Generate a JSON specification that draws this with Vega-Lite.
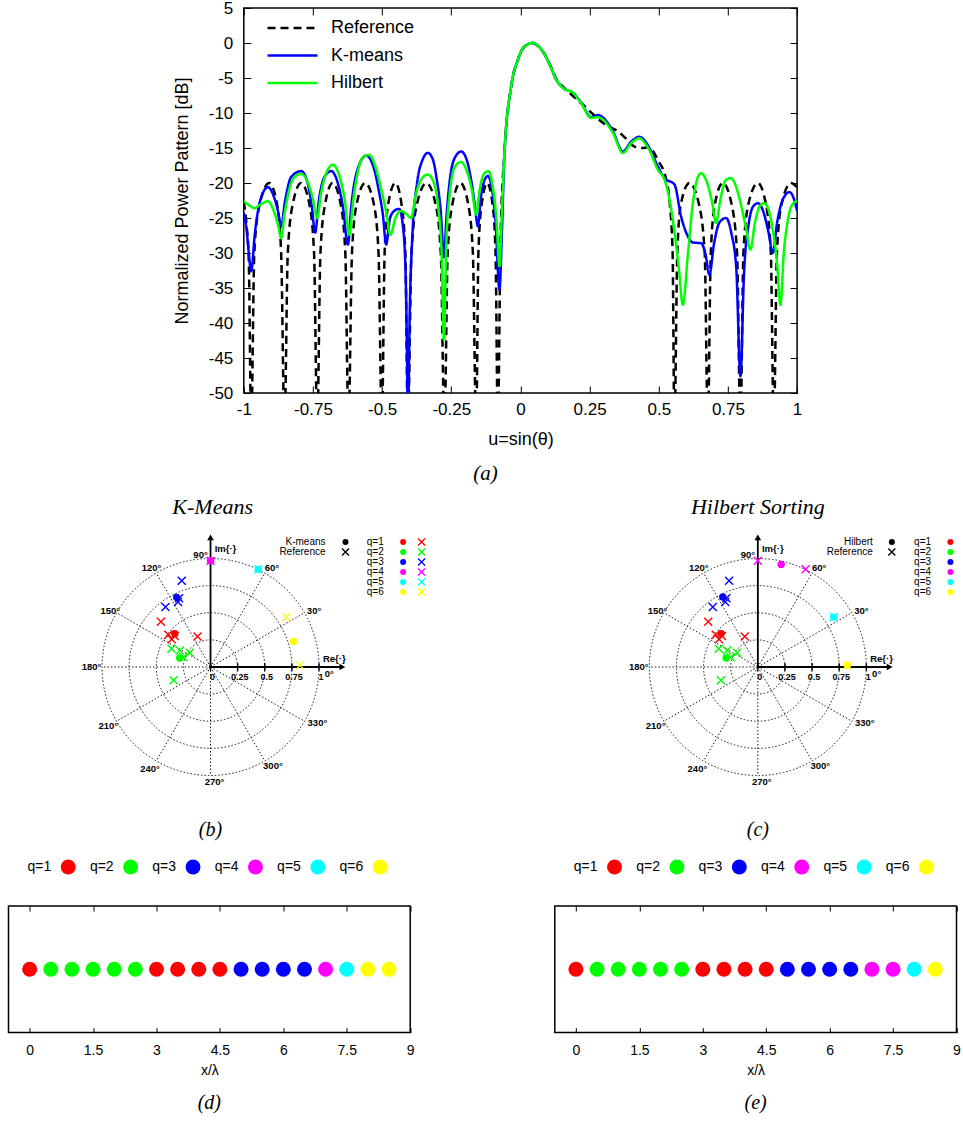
{
"$schema":"https://vega.github.io/schema/vega-lite/v6.json",
"padding":{"left":7.5,"top":-2,"right":0,"bottom":0},
"config":{"font":"Liberation Sans","view":{"stroke":null},
"axis":{"domain":false,"grid":false,"labelColor":"black","tickColor":"black","titleColor":"black","titleFontWeight":"normal","labelFont":"Liberation Sans","titleFont":"Liberation Sans","tickWidth":1},
"title":{"font":"Liberation Serif","fontStyle":"italic","fontWeight":"normal","color":"black"}},
"datasets":{
"curves":[
{"s":"Reference","u":-1,"v":-22.7},{"s":"Reference","u":-0.99,"v":-26},{"s":"Reference","u":-0.982,"v":-31},{"s":"Reference","u":-0.9733,"v":-55},
{"s":"Reference","u":-0.962,"v":-30},{"s":"Reference","u":-0.945,"v":-23.5},{"s":"Reference","u":-0.908,"v":-20},{"s":"Reference","u":-0.88,"v":-23},{"s":"Reference","u":-0.865,"v":-30},{"s":"Reference","u":-0.8529,"v":-55},
{"s":"Reference","u":-0.841,"v":-30},{"s":"Reference","u":-0.823,"v":-23},{"s":"Reference","u":-0.793,"v":-20},{"s":"Reference","u":-0.763,"v":-23},{"s":"Reference","u":-0.746,"v":-30},{"s":"Reference","u":-0.7347,"v":-55},
{"s":"Reference","u":-0.723,"v":-30},{"s":"Reference","u":-0.706,"v":-23},{"s":"Reference","u":-0.679,"v":-20},{"s":"Reference","u":-0.65,"v":-23},{"s":"Reference","u":-0.633,"v":-30},{"s":"Reference","u":-0.6216,"v":-55},
{"s":"Reference","u":-0.609,"v":-30},{"s":"Reference","u":-0.592,"v":-23},{"s":"Reference","u":-0.561,"v":-20},{"s":"Reference","u":-0.53,"v":-23},{"s":"Reference","u":-0.513,"v":-30},{"s":"Reference","u":-0.5009,"v":-55},
{"s":"Reference","u":-0.491,"v":-30},{"s":"Reference","u":-0.478,"v":-23},{"s":"Reference","u":-0.452,"v":-20},{"s":"Reference","u":-0.43,"v":-23},{"s":"Reference","u":-0.416,"v":-30},{"s":"Reference","u":-0.4069,"v":-55},
{"s":"Reference","u":-0.394,"v":-30},{"s":"Reference","u":-0.374,"v":-23},{"s":"Reference","u":-0.34,"v":-20},{"s":"Reference","u":-0.307,"v":-23},{"s":"Reference","u":-0.288,"v":-30},{"s":"Reference","u":-0.2747,"v":-55},
{"s":"Reference","u":-0.263,"v":-30},{"s":"Reference","u":-0.246,"v":-23},{"s":"Reference","u":-0.217,"v":-20},{"s":"Reference","u":-0.189,"v":-23},{"s":"Reference","u":-0.172,"v":-30},{"s":"Reference","u":-0.1601,"v":-55},
{"s":"Reference","u":-0.152,"v":-30},{"s":"Reference","u":-0.14,"v":-23},{"s":"Reference","u":-0.12,"v":-20},{"s":"Reference","u":-0.101,"v":-23},{"s":"Reference","u":-0.09,"v":-30},{"s":"Reference","u":-0.0817,"v":-55},
{"s":"Reference","u":-0.072,"v":-28},{"s":"Reference","u":-0.0578,"v":-15.7},{"s":"Reference","u":-0.0336,"v":-6.2},{"s":"Reference","u":-0.0094,"v":-2.4},{"s":"Reference","u":0.0145,"v":-0.5},{"s":"Reference","u":0.0448,"v":0},{"s":"Reference","u":0.063,"v":-0.4},{"s":"Reference","u":0.0857,"v":-1.5},{"s":"Reference","u":0.108,"v":-3.2},{"s":"Reference","u":0.129,"v":-5.1},{"s":"Reference","u":0.155,"v":-6.3},{"s":"Reference","u":0.185,"v":-7.4},{"s":"Reference","u":0.21,"v":-8.3},{"s":"Reference","u":0.2313,"v":-9},{"s":"Reference","u":0.26,"v":-10.1},{"s":"Reference","u":0.2917,"v":-11.2},{"s":"Reference","u":0.322,"v":-12},{"s":"Reference","u":0.352,"v":-12.6},{"s":"Reference","u":0.38,"v":-13.6},{"s":"Reference","u":0.412,"v":-14.8},{"s":"Reference","u":0.44,"v":-15},{"s":"Reference","u":0.4604,"v":-14.9},{"s":"Reference","u":0.48,"v":-15.5},{"s":"Reference","u":0.4966,"v":-16.7},{"s":"Reference","u":0.5266,"v":-19.5},{"s":"Reference","u":0.54,"v":-23},{"s":"Reference","u":0.55,"v":-30},{"s":"Reference","u":0.5566,"v":-55},
{"s":"Reference","u":0.567,"v":-30},{"s":"Reference","u":0.58,"v":-23},{"s":"Reference","u":0.611,"v":-20},{"s":"Reference","u":0.645,"v":-23},{"s":"Reference","u":0.666,"v":-30},{"s":"Reference","u":0.6773,"v":-55},
{"s":"Reference","u":0.688,"v":-30},{"s":"Reference","u":0.703,"v":-23},{"s":"Reference","u":0.7315,"v":-20},{"s":"Reference","u":0.763,"v":-23},{"s":"Reference","u":0.783,"v":-30},{"s":"Reference","u":0.7951,"v":-55},
{"s":"Reference","u":0.806,"v":-30},{"s":"Reference","u":0.824,"v":-23},{"s":"Reference","u":0.858,"v":-20},{"s":"Reference","u":0.887,"v":-23},{"s":"Reference","u":0.905,"v":-30},{"s":"Reference","u":0.9158,"v":-55},
{"s":"Reference","u":0.927,"v":-30},{"s":"Reference","u":0.944,"v":-23},{"s":"Reference","u":0.978,"v":-20},{"s":"Reference","u":1,"v":-20.6},
{"s":"K-means","u":-1,"v":-24.3},{"s":"K-means","u":-0.99,"v":-26.6},{"s":"K-means","u":-0.982,"v":-30},{"s":"K-means","u":-0.9733,"v":-32.6},{"s":"K-means","u":-0.96,"v":-27.2},{"s":"K-means","u":-0.94,"v":-22.4},{"s":"K-means","u":-0.9129,"v":-20.6},{"s":"K-means","u":-0.89,"v":-22.1},{"s":"K-means","u":-0.876,"v":-24.1},{"s":"K-means","u":-0.8649,"v":-26.2},{"s":"K-means","u":-0.851,"v":-22.6},{"s":"K-means","u":-0.828,"v":-19.1},{"s":"K-means","u":-0.7925,"v":-18.3},{"s":"K-means","u":-0.77,"v":-19.9},{"s":"K-means","u":-0.755,"v":-23.1},{"s":"K-means","u":-0.742,"v":-27.1},{"s":"K-means","u":-0.729,"v":-22.6},{"s":"K-means","u":-0.708,"v":-19.1},{"s":"K-means","u":-0.6841,"v":-18.3},{"s":"K-means","u":-0.661,"v":-19.9},{"s":"K-means","u":-0.641,"v":-23.6},{"s":"K-means","u":-0.6238,"v":-28.8},{"s":"K-means","u":-0.611,"v":-23.1},{"s":"K-means","u":-0.585,"v":-17.6},{"s":"K-means","u":-0.5576,"v":-16.1},{"s":"K-means","u":-0.532,"v":-17.6},{"s":"K-means","u":-0.512,"v":-21.1},{"s":"K-means","u":-0.497,"v":-24.6},{"s":"K-means","u":-0.4854,"v":-28.8},{"s":"K-means","u":-0.472,"v":-25.1},{"s":"K-means","u":-0.4565,"v":-24},{"s":"K-means","u":-0.4384,"v":-23.7},{"s":"K-means","u":-0.425,"v":-26.1},{"s":"K-means","u":-0.415,"v":-33.1},{"s":"K-means","u":-0.41,"v":-45},{"s":"K-means","u":-0.4069,"v":-55},{"s":"K-means","u":-0.4,"v":-38},{"s":"K-means","u":-0.39,"v":-27},{"s":"K-means","u":-0.374,"v":-20.1},{"s":"K-means","u":-0.353,"v":-16.6},{"s":"K-means","u":-0.3347,"v":-15.7},{"s":"K-means","u":-0.317,"v":-16.6},{"s":"K-means","u":-0.302,"v":-19.6},{"s":"K-means","u":-0.288,"v":-24.1},{"s":"K-means","u":-0.2768,"v":-30.6},{"s":"K-means","u":-0.267,"v":-24.6},{"s":"K-means","u":-0.252,"v":-18.6},{"s":"K-means","u":-0.233,"v":-16.1},{"s":"K-means","u":-0.2144,"v":-15.5},{"s":"K-means","u":-0.195,"v":-16.6},{"s":"K-means","u":-0.178,"v":-19.6},{"s":"K-means","u":-0.165,"v":-23.1},{"s":"K-means","u":-0.154,"v":-26.2},{"s":"K-means","u":-0.143,"v":-22.1},{"s":"K-means","u":-0.13,"v":-19.6},{"s":"K-means","u":-0.1178,"v":-19},{"s":"K-means","u":-0.104,"v":-20.6},{"s":"K-means","u":-0.09,"v":-25.6},{"s":"K-means","u":-0.0759,"v":-35.2},{"s":"K-means","u":-0.067,"v":-27},{"s":"K-means","u":-0.0578,"v":-15.7},{"s":"K-means","u":-0.0336,"v":-6.2},{"s":"K-means","u":-0.0094,"v":-2.4},{"s":"K-means","u":0.0145,"v":-0.5},{"s":"K-means","u":0.0448,"v":0},{"s":"K-means","u":0.063,"v":-0.4},{"s":"K-means","u":0.0857,"v":-1.5},{"s":"K-means","u":0.108,"v":-3.3},{"s":"K-means","u":0.129,"v":-5.2},{"s":"K-means","u":0.1532,"v":-6.4},{"s":"K-means","u":0.1894,"v":-7.1},{"s":"K-means","u":0.2194,"v":-8.5},{"s":"K-means","u":0.2555,"v":-10.6},{"s":"K-means","u":0.28,"v":-10.3},{"s":"K-means","u":0.3,"v":-10.7},{"s":"K-means","u":0.335,"v":-12.7},{"s":"K-means","u":0.3701,"v":-15.5},{"s":"K-means","u":0.4,"v":-14.1},{"s":"K-means","u":0.4301,"v":-13.4},{"s":"K-means","u":0.45,"v":-14},{"s":"K-means","u":0.4662,"v":-15},{"s":"K-means","u":0.4966,"v":-17.6},{"s":"K-means","u":0.5204,"v":-19.3},{"s":"K-means","u":0.5566,"v":-20.2},{"s":"K-means","u":0.5808,"v":-24.8},{"s":"K-means","u":0.605,"v":-27.6},{"s":"K-means","u":0.6231,"v":-28.5},{"s":"K-means","u":0.6531,"v":-28.6},{"s":"K-means","u":0.668,"v":-30},{"s":"K-means","u":0.683,"v":-33.1},{"s":"K-means","u":0.7,"v":-28.6},{"s":"K-means","u":0.72,"v":-25.6},{"s":"K-means","u":0.7434,"v":-25},{"s":"K-means","u":0.762,"v":-27.1},{"s":"K-means","u":0.78,"v":-32.1},{"s":"K-means","u":0.7951,"v":-47.6},{"s":"K-means","u":0.808,"v":-33.1},{"s":"K-means","u":0.826,"v":-25.6},{"s":"K-means","u":0.842,"v":-23.3},{"s":"K-means","u":0.858,"v":-22.9},{"s":"K-means","u":0.878,"v":-24.1},{"s":"K-means","u":0.897,"v":-27.1},{"s":"K-means","u":0.9122,"v":-30},{"s":"K-means","u":0.928,"v":-25.6},{"s":"K-means","u":0.948,"v":-22.4},{"s":"K-means","u":0.9722,"v":-21.3},{"s":"K-means","u":0.987,"v":-22.1},{"s":"K-means","u":1,"v":-24},
{"s":"Hilbert","u":-1,"v":-22.6},{"s":"Hilbert","u":-0.98,"v":-23.2},{"s":"Hilbert","u":-0.9613,"v":-23.6},{"s":"Hilbert","u":-0.937,"v":-23},{"s":"Hilbert","u":-0.9129,"v":-22.6},{"s":"Hilbert","u":-0.89,"v":-24.2},{"s":"Hilbert","u":-0.875,"v":-26.2},{"s":"Hilbert","u":-0.8649,"v":-27.9},{"s":"Hilbert","u":-0.853,"v":-24.5},{"s":"Hilbert","u":-0.833,"v":-20.5},{"s":"Hilbert","u":-0.812,"v":-19},{"s":"Hilbert","u":-0.7925,"v":-18.7},{"s":"Hilbert","u":-0.772,"v":-19.6},{"s":"Hilbert","u":-0.752,"v":-22},{"s":"Hilbert","u":-0.7347,"v":-25},{"s":"Hilbert","u":-0.721,"v":-21.5},{"s":"Hilbert","u":-0.7,"v":-18.4},{"s":"Hilbert","u":-0.678,"v":-17.4},{"s":"Hilbert","u":-0.656,"v":-18.8},{"s":"Hilbert","u":-0.636,"v":-22.2},{"s":"Hilbert","u":-0.618,"v":-27.4},{"s":"Hilbert","u":-0.605,"v":-22.6},{"s":"Hilbert","u":-0.585,"v":-17.9},{"s":"Hilbert","u":-0.565,"v":-16.2},{"s":"Hilbert","u":-0.5457,"v":-16},{"s":"Hilbert","u":-0.525,"v":-17.6},{"s":"Hilbert","u":-0.505,"v":-20.6},{"s":"Hilbert","u":-0.485,"v":-24.2},{"s":"Hilbert","u":-0.4698,"v":-27.4},{"s":"Hilbert","u":-0.452,"v":-25},{"s":"Hilbert","u":-0.4312,"v":-24},{"s":"Hilbert","u":-0.413,"v":-24.4},{"s":"Hilbert","u":-0.395,"v":-25},{"s":"Hilbert","u":-0.378,"v":-21.6},{"s":"Hilbert","u":-0.357,"v":-19.4},{"s":"Hilbert","u":-0.3347,"v":-18.8},{"s":"Hilbert","u":-0.312,"v":-20.1},{"s":"Hilbert","u":-0.297,"v":-23.6},{"s":"Hilbert","u":-0.285,"v":-30},{"s":"Hilbert","u":-0.2768,"v":-42.4},{"s":"Hilbert","u":-0.268,"v":-28.6},{"s":"Hilbert","u":-0.256,"v":-21.6},{"s":"Hilbert","u":-0.236,"v":-17.6},{"s":"Hilbert","u":-0.2144,"v":-17},{"s":"Hilbert","u":-0.193,"v":-18.4},{"s":"Hilbert","u":-0.175,"v":-21.1},{"s":"Hilbert","u":-0.1601,"v":-24.5},{"s":"Hilbert","u":-0.148,"v":-21.1},{"s":"Hilbert","u":-0.132,"v":-18.7},{"s":"Hilbert","u":-0.1157,"v":-18.3},{"s":"Hilbert","u":-0.1,"v":-20.6},{"s":"Hilbert","u":-0.087,"v":-25.1},{"s":"Hilbert","u":-0.0759,"v":-31.9},{"s":"Hilbert","u":-0.067,"v":-24},{"s":"Hilbert","u":-0.0578,"v":-15.7},{"s":"Hilbert","u":-0.0336,"v":-6.2},{"s":"Hilbert","u":-0.0094,"v":-2.4},{"s":"Hilbert","u":0.0145,"v":-0.5},{"s":"Hilbert","u":0.0448,"v":0},{"s":"Hilbert","u":0.063,"v":-0.4},{"s":"Hilbert","u":0.0857,"v":-1.5},{"s":"Hilbert","u":0.108,"v":-3.3},{"s":"Hilbert","u":0.129,"v":-5.2},{"s":"Hilbert","u":0.1532,"v":-6.4},{"s":"Hilbert","u":0.1894,"v":-7.1},{"s":"Hilbert","u":0.2194,"v":-8.6},{"s":"Hilbert","u":0.2555,"v":-10.7},{"s":"Hilbert","u":0.28,"v":-10.6},{"s":"Hilbert","u":0.3,"v":-11},{"s":"Hilbert","u":0.335,"v":-12.9},{"s":"Hilbert","u":0.3701,"v":-15.7},{"s":"Hilbert","u":0.4,"v":-14.3},{"s":"Hilbert","u":0.4301,"v":-13.6},{"s":"Hilbert","u":0.45,"v":-14.3},{"s":"Hilbert","u":0.4662,"v":-15.3},{"s":"Hilbert","u":0.4966,"v":-18.1},{"s":"Hilbert","u":0.5204,"v":-19.5},{"s":"Hilbert","u":0.54,"v":-22.6},{"s":"Hilbert","u":0.5566,"v":-27},{"s":"Hilbert","u":0.572,"v":-32},{"s":"Hilbert","u":0.587,"v":-37.4},{"s":"Hilbert","u":0.605,"v":-30.3},{"s":"Hilbert","u":0.6231,"v":-22.9},{"s":"Hilbert","u":0.64,"v":-19.3},{"s":"Hilbert","u":0.6531,"v":-18.6},{"s":"Hilbert","u":0.675,"v":-20},{"s":"Hilbert","u":0.692,"v":-22.6},{"s":"Hilbert","u":0.7073,"v":-25.7},{"s":"Hilbert","u":0.722,"v":-22.5},{"s":"Hilbert","u":0.742,"v":-19.6},{"s":"Hilbert","u":0.7615,"v":-19.3},{"s":"Hilbert","u":0.78,"v":-20.6},{"s":"Hilbert","u":0.8,"v":-23.6},{"s":"Hilbert","u":0.816,"v":-26.6},{"s":"Hilbert","u":0.8312,"v":-29.5},{"s":"Hilbert","u":0.848,"v":-25.6},{"s":"Hilbert","u":0.865,"v":-23.3},{"s":"Hilbert","u":0.8818,"v":-22.9},{"s":"Hilbert","u":0.898,"v":-24},{"s":"Hilbert","u":0.914,"v":-27.2},{"s":"Hilbert","u":0.927,"v":-31.2},{"s":"Hilbert","u":0.9397,"v":-37.4},{"s":"Hilbert","u":0.952,"v":-30},{"s":"Hilbert","u":0.968,"v":-25},{"s":"Hilbert","u":0.986,"v":-22.9},{"s":"Hilbert","u":1,"v":-22.6}
],
"elem":[
{"pos":0,"re":-0.457,"im":0.417,"qK":"q=1","qH":"q=1"},
{"pos":0.5,"re":-0.36,"im":0.168,"qK":"q=2","qH":"q=2"},
{"pos":1,"re":-0.283,"im":0.153,"qK":"q=2","qH":"q=2"},
{"pos":1.5,"re":-0.192,"im":0.131,"qK":"q=2","qH":"q=2"},
{"pos":2,"re":-0.25,"im":0.09,"qK":"q=2","qH":"q=2"},
{"pos":2.5,"re":-0.34,"im":-0.122,"qK":"q=2","qH":"q=2"},
{"pos":3,"re":-0.388,"im":0.298,"qK":"q=1","qH":"q=1"},
{"pos":3.5,"re":-0.357,"im":0.255,"qK":"q=1","qH":"q=1"},
{"pos":4,"re":-0.33,"im":0.285,"qK":"q=1","qH":"q=1"},
{"pos":4.5,"re":-0.12,"im":0.282,"qK":"q=1","qH":"q=1"},
{"pos":5,"re":-0.265,"im":0.795,"qK":"q=3","qH":"q=3"},
{"pos":5.5,"re":-0.29,"im":0.633,"qK":"q=3","qH":"q=3"},
{"pos":6,"re":-0.3,"im":0.6,"qK":"q=3","qH":"q=3"},
{"pos":6.5,"re":-0.415,"im":0.552,"qK":"q=3","qH":"q=3"},
{"pos":7,"re":0,"im":0.98,"qK":"q=4","qH":"q=4"},
{"pos":7.5,"re":0.44,"im":0.9,"qK":"q=5","qH":"q=4"},
{"pos":8,"re":0.7,"im":0.46,"qK":"q=6","qH":"q=5"},
{"pos":8.5,"re":0.825,"im":0.015,"qK":"q=6","qH":"q=6"}
],
"cent":[
{"q":"q=1","kre":-0.33,"kim":0.306,"hre":-0.338,"him":0.308},
{"q":"q=2","kre":-0.284,"kim":0.083,"hre":-0.292,"him":0.083},
{"q":"q=3","kre":-0.312,"kim":0.642,"hre":-0.323,"him":0.646},
{"q":"q=4","kre":0,"kim":0.98,"hre":0.215,"him":0.945},
{"q":"q=5","kre":0.44,"kim":0.9,"hre":0.7,"him":0.46},
{"q":"q=6","kre":0.765,"kim":0.235,"hre":0.825,"him":0.015}
],
"circ":[{"ox":0,"oy":0,"r":0.25},{"ox":0,"oy":0,"r":0.5},{"ox":0,"oy":0,"r":0.75},{"ox":0,"oy":0,"r":1}],
"spk":[{"ox":0,"oy":0,"cx":1,"cy":0},{"ox":0,"oy":0,"cx":0.866,"cy":0.5},{"ox":0,"oy":0,"cx":0.5,"cy":0.866},{"ox":0,"oy":0,"cx":0,"cy":1},{"ox":0,"oy":0,"cx":-0.5,"cy":0.866},{"ox":0,"oy":0,"cx":-0.866,"cy":0.5},{"ox":0,"oy":0,"cx":-1,"cy":0},{"ox":0,"oy":0,"cx":-0.866,"cy":-0.5},{"ox":0,"oy":0,"cx":-0.5,"cy":-0.866},{"ox":0,"oy":0,"cx":0,"cy":-1},{"ox":0,"oy":0,"cx":0.5,"cy":-0.866},{"ox":0,"oy":0,"cx":0.866,"cy":-0.5}],
"pax":[{"x1":0,"y1":0,"x2":1.21,"y2":0},{"x1":0,"y1":0,"x2":0,"y2":1.19}],
"parr":[{"ax":1.215,"ay":0,"dir":"right"},{"ax":0,"ay":1.195,"dir":"up"}],
"ptk":[{"t":0,"lo":-0.035,"hi":0.035,"ly":-0.095,"lab":"0"},{"t":0.25,"lo":-0.035,"hi":0.035,"ly":-0.095,"lab":"0.25"},{"t":0.5,"lo":-0.035,"hi":0.035,"ly":-0.095,"lab":"0.5"},{"t":0.75,"lo":-0.035,"hi":0.035,"ly":-0.095,"lab":"0.75"},{"t":1,"lo":-0.035,"hi":0.035,"ly":-0.095,"lab":"1"}],
"pang":[
{"lab":"90°","lx":-0.092,"ly":1.034},{"lab":"60°","lx":0.566,"ly":0.908},{"lab":"30°","lx":0.954,"ly":0.52},{"lab":"0°","lx":1.095,"ly":-0.061},
{"lab":"120°","lx":-0.544,"ly":0.917},{"lab":"150°","lx":-0.924,"ly":0.514},{"lab":"180°","lx":-1.097,"ly":0},{"lab":"210°","lx":-0.942,"ly":-0.544},
{"lab":"240°","lx":-0.557,"ly":-0.939},{"lab":"270°","lx":0.037,"ly":-1.061},{"lab":"300°","lx":0.575,"ly":-0.917},{"lab":"330°","lx":0.985,"ly":-0.52},
{"lab":"Re{·}","lx":1.14,"ly":0.076},{"lab":"Im{·}","lx":0.138,"ly":1.086}
],
"pleg":[{"q":"q=1","tx":1.44,"dx0":1.775,"cx0":1.945,"ly":1.152},{"q":"q=2","tx":1.44,"dx0":1.775,"cx0":1.945,"ly":1.06},{"q":"q=3","tx":1.44,"dx0":1.775,"cx0":1.945,"ly":0.968},{"q":"q=4","tx":1.44,"dx0":1.775,"cx0":1.945,"ly":0.876},{"q":"q=5","tx":1.44,"dx0":1.775,"cx0":1.945,"ly":0.784},{"q":"q=6","tx":1.44,"dx0":1.775,"cx0":1.945,"ly":0.692}],
"qs":[{"k":1,"q":"q=1"},{"k":2,"q":"q=2"},{"k":3,"q":"q=3"},{"k":4,"q":"q=4"},{"k":5,"q":"q=5"},{"k":6,"q":"q=6"}]
},
"spacing":7,
"vconcat":[
{"hconcat":[
{"width":90.1,"height":385,"data":{"values":[{"a":0}]},"mark":{"type":"point","opacity":0},"encoding":{}},
{"width":553.3,"height":385,"data":{"name":"curves"},
 "view":{"stroke":"black","strokeWidth":1.5},
 "title":{"text":"(a)","orient":"bottom","fontSize":21,"dx":-35,"offset":15},
 "layer":[
  {"mark":{"type":"line","strokeWidth":2.5,"clip":true,"interpolate":"monotone"},
   "encoding":{
    "x":{"field":"u","type":"quantitative","scale":{"domain":[-1,1],"nice":false,"zero":false},
      "axis":{"orient":"bottom","values":[-1,-0.75,-0.5,-0.25,0,0.25,0.5,0.75,1],"labelExpr":"'' + datum.value","tickSize":-7,"labelPadding":15,"labelFontSize":17,"labelFlush":false,"labelOverlap":false,"title":"u=sin(θ)","titleFontSize":18,"titlePadding":13}},
    "y":{"field":"v","type":"quantitative","scale":{"domain":[-50,5],"nice":false,"zero":false},
      "axis":{"orient":"left","values":[5,0,-5,-10,-15,-20,-25,-30,-35,-40,-45,-50],"labelExpr":"'' + datum.value","tickSize":-7,"labelPadding":18,"labelFontSize":17,"labelFlush":false,"labelOverlap":false,"title":"Normalized Power Pattern [dB]","titleFontSize":18,"titlePadding":17}},
    "stroke":{"field":"s","type":"nominal","scale":{"domain":["Reference","K-means","Hilbert"],"range":["#000000","#0000ff","#00ff00"]},
      "legend":{"orient":"none","legendX":257.5,"legendY":10,"title":null,"symbolType":"stroke","symbolSize":2500,"symbolStrokeWidth":2.5,"labelFontSize":18,"labelFont":"Liberation Sans","labelColor":"black","labelOffset":12,"clipHeight":20,"rowPadding":7.5,"padding":0,"labelLimit":0}},
    "strokeDash":{"field":"s","type":"nominal","scale":{"domain":["Reference","K-means","Hilbert"],"range":[[8,5],[1,0],[1,0]]},
      "legend":{"orient":"none","legendX":257.5,"legendY":10,"title":null,"symbolType":"stroke","symbolSize":2500,"symbolStrokeWidth":2.5,"labelFontSize":18,"labelFont":"Liberation Sans","labelColor":"black","labelOffset":12,"clipHeight":20,"rowPadding":7.5,"padding":0,"labelLimit":0}}
   }},
  {"mark":{"type":"point","opacity":0,"clip":true},
   "encoding":{
    "x":{"field":"u","type":"quantitative","axis":{"orient":"top","values":[-1,-0.75,-0.5,-0.25,0,0.25,0.5,0.75,1],"tickSize":-7,"labels":false,"title":null}},
    "y":{"field":"v","type":"quantitative","axis":{"orient":"right","values":[5,0,-5,-10,-15,-20,-25,-30,-35,-40,-45,-50],"tickSize":-7,"labels":false,"title":null}}
   }}
 ],
 "resolve":{"axis":{"x":"independent","y":"independent"}}
}
],"spacing":144.3,"bounds":"flush"},
{"hconcat":[
{"width":402.7,"height":350,
 "layer":[
  {"data":{"name":"circ"},"mark":{"type":"point","shape":"circle","filled":false,"stroke":"black","strokeWidth":0.9,"strokeDash":[1.5,2],"opacity":1},
   "encoding":{"x":{"field":"ox","type":"quantitative","scale":{"domain":[-1.862,1.8495],"nice":false,"zero":false},"axis":null},
    "y":{"field":"oy","type":"quantitative","scale":{"domain":[-1.613,1.613],"nice":false,"zero":false},"axis":null},
    "size":{"field":"r","type":"quantitative","scale":{"type":"pow","exponent":2,"domain":[0,1],"range":[0,47089]},"legend":null}}},
  {"data":{"name":"spk"},"mark":{"type":"rule","stroke":"black","strokeWidth":0.9,"strokeDash":[1.5,2]},
   "encoding":{"x":{"field":"ox","type":"quantitative","axis":null},"y":{"field":"oy","type":"quantitative","axis":null},"x2":{"field":"cx"},"y2":{"field":"cy"}}},
  {"data":{"name":"pax"},"mark":{"type":"rule","stroke":"black","strokeWidth":1.8},
   "encoding":{"x":{"field":"x1","type":"quantitative","axis":null},"y":{"field":"y1","type":"quantitative","axis":null},"x2":{"field":"x2"},"y2":{"field":"y2"}}},
  {"data":{"name":"ptk"},"mark":{"type":"rule","stroke":"black","strokeWidth":1.5},
   "encoding":{"x":{"field":"t","type":"quantitative","axis":null},"y":{"field":"lo","type":"quantitative","axis":null},"y2":{"field":"hi"}}},
  {"data":{"name":"parr"},"mark":{"type":"point","filled":true,"color":"black","size":45,"opacity":1},
   "encoding":{"x":{"field":"ax","type":"quantitative","axis":null},"y":{"field":"ay","type":"quantitative","axis":null},
    "shape":{"field":"dir","type":"nominal","scale":{"domain":["right","up"],"range":["triangle-right","triangle-up"]},"legend":null}}},
  {"data":{"name":"ptk"},"mark":{"type":"text","fontSize":9,"fontWeight":"bold","color":"black","dx":2},
   "encoding":{"x":{"field":"t","type":"quantitative","axis":null},"y":{"field":"ly","type":"quantitative","axis":null},"text":{"field":"lab","type":"nominal"}}},
  {"data":{"name":"pang"},"mark":{"type":"text","fontSize":9.5,"fontWeight":"bold","color":"black"},
   "encoding":{"x":{"field":"lx","type":"quantitative","axis":null},"y":{"field":"ly","type":"quantitative","axis":null},"text":{"field":"lab","type":"nominal"}}},
  {"data":{"name":"cent"},"mark":{"type":"point","filled":true,"size":55,"opacity":1},
   "encoding":{"x":{"field":"kre","type":"quantitative","axis":null},"y":{"field":"kim","type":"quantitative","axis":null},
    "color":{"field":"q","type":"nominal","scale":{"domain":["q=1","q=2","q=3","q=4","q=5","q=6"],"range":["#ff0000","#00ff00","#0000ff","#ff00ff","#00ffff","#ffff00"]},"legend":null}}},
  {"data":{"name":"elem"},"mark":{"type":"point","shape":"M-1,-1L1,1M-1,1L1,-1","filled":false,"size":64,"strokeWidth":1.4,"opacity":1},
   "encoding":{"x":{"field":"re","type":"quantitative","axis":null},"y":{"field":"im","type":"quantitative","axis":null},
    "color":{"field":"qK","type":"nominal","legend":null}}},
  {"data":{"name":"pleg"},"mark":{"type":"text","align":"left","fontSize":10,"color":"black"},
   "encoding":{"x":{"field":"tx","type":"quantitative","axis":null},"y":{"field":"ly","type":"quantitative","axis":null},"text":{"field":"q","type":"nominal"}}},
  {"data":{"name":"pleg"},"mark":{"type":"point","filled":true,"size":36,"opacity":1},
   "encoding":{"x":{"field":"dx0","type":"quantitative","axis":null},"y":{"field":"ly","type":"quantitative","axis":null},
    "color":{"field":"q","type":"nominal","legend":null}}},
  {"data":{"name":"pleg"},"mark":{"type":"point","shape":"M-1,-1L1,1M-1,1L1,-1","filled":false,"size":49,"strokeWidth":1.3,"opacity":1},
   "encoding":{"x":{"field":"cx0","type":"quantitative","axis":null},"y":{"field":"ly","type":"quantitative","axis":null},
    "color":{"field":"q","type":"nominal","legend":null}}},
  {"data":{"values":[{"lab":"K-means","lx":1.06,"ly":1.152},{"lab":"Reference","lx":1.06,"ly":1.06}]},"mark":{"type":"text","align":"right","fontSize":10,"color":"black"},
   "encoding":{"x":{"field":"lx","type":"quantitative","axis":null},"y":{"field":"ly","type":"quantitative","axis":null},"text":{"field":"lab","type":"nominal"}}},
  {"data":{"values":[{"lx":1.244,"ly":1.152}]},"mark":{"type":"point","filled":true,"size":36,"color":"black","opacity":1},
   "encoding":{"x":{"field":"lx","type":"quantitative","axis":null},"y":{"field":"ly","type":"quantitative","axis":null}}},
  {"data":{"values":[{"lx":1.244,"ly":1.06}]},"mark":{"type":"point","shape":"M-1,-1L1,1M-1,1L1,-1","filled":false,"size":49,"strokeWidth":1.4,"color":"black","opacity":1},
   "encoding":{"x":{"field":"lx","type":"quantitative","axis":null},"y":{"field":"ly","type":"quantitative","axis":null}}},
  {"data":{"values":[{"lab":"K-Means","lx":0.02,"ly":1.475}]},"mark":{"type":"text","font":"Liberation Serif","fontStyle":"italic","fontSize":22,"color":"black"},
   "encoding":{"x":{"field":"lx","type":"quantitative","axis":null},"y":{"field":"ly","type":"quantitative","axis":null},"text":{"field":"lab","type":"nominal"}}},
  {"data":{"values":[{"lab":"(b)","lx":0,"ly":-1.5}]},"mark":{"type":"text","font":"Liberation Serif","fontStyle":"italic","fontSize":20,"color":"black"},
   "encoding":{"x":{"field":"lx","type":"quantitative","axis":null},"y":{"field":"ly","type":"quantitative","axis":null},"text":{"field":"lab","type":"nominal"}}}
 ]},
{"width":407.1,"height":350,
 "layer":[
  {"data":{"name":"circ"},"mark":{"type":"point","shape":"circle","filled":false,"stroke":"black","strokeWidth":0.9,"strokeDash":[1.5,2],"opacity":1},
   "encoding":{"x":{"field":"ox","type":"quantitative","scale":{"domain":[-1.862,1.89],"nice":false,"zero":false},"axis":null},
    "y":{"field":"oy","type":"quantitative","scale":{"domain":[-1.613,1.613],"nice":false,"zero":false},"axis":null},
    "size":{"field":"r","type":"quantitative","scale":{"type":"pow","exponent":2,"domain":[0,1],"range":[0,47089]},"legend":null}}},
  {"data":{"name":"spk"},"mark":{"type":"rule","stroke":"black","strokeWidth":0.9,"strokeDash":[1.5,2]},
   "encoding":{"x":{"field":"ox","type":"quantitative","axis":null},"y":{"field":"oy","type":"quantitative","axis":null},"x2":{"field":"cx"},"y2":{"field":"cy"}}},
  {"data":{"name":"pax"},"mark":{"type":"rule","stroke":"black","strokeWidth":1.8},
   "encoding":{"x":{"field":"x1","type":"quantitative","axis":null},"y":{"field":"y1","type":"quantitative","axis":null},"x2":{"field":"x2"},"y2":{"field":"y2"}}},
  {"data":{"name":"ptk"},"mark":{"type":"rule","stroke":"black","strokeWidth":1.5},
   "encoding":{"x":{"field":"t","type":"quantitative","axis":null},"y":{"field":"lo","type":"quantitative","axis":null},"y2":{"field":"hi"}}},
  {"data":{"name":"parr"},"mark":{"type":"point","filled":true,"color":"black","size":45,"opacity":1},
   "encoding":{"x":{"field":"ax","type":"quantitative","axis":null},"y":{"field":"ay","type":"quantitative","axis":null},
    "shape":{"field":"dir","type":"nominal","scale":{"domain":["right","up"],"range":["triangle-right","triangle-up"]},"legend":null}}},
  {"data":{"name":"ptk"},"mark":{"type":"text","fontSize":9,"fontWeight":"bold","color":"black","dx":2},
   "encoding":{"x":{"field":"t","type":"quantitative","axis":null},"y":{"field":"ly","type":"quantitative","axis":null},"text":{"field":"lab","type":"nominal"}}},
  {"data":{"name":"pang"},"mark":{"type":"text","fontSize":9.5,"fontWeight":"bold","color":"black"},
   "encoding":{"x":{"field":"lx","type":"quantitative","axis":null},"y":{"field":"ly","type":"quantitative","axis":null},"text":{"field":"lab","type":"nominal"}}},
  {"data":{"name":"cent"},"mark":{"type":"point","filled":true,"size":55,"opacity":1},
   "encoding":{"x":{"field":"hre","type":"quantitative","axis":null},"y":{"field":"him","type":"quantitative","axis":null},
    "color":{"field":"q","type":"nominal","scale":{"domain":["q=1","q=2","q=3","q=4","q=5","q=6"],"range":["#ff0000","#00ff00","#0000ff","#ff00ff","#00ffff","#ffff00"]},"legend":null}}},
  {"data":{"name":"elem"},"mark":{"type":"point","shape":"M-1,-1L1,1M-1,1L1,-1","filled":false,"size":64,"strokeWidth":1.4,"opacity":1},
   "encoding":{"x":{"field":"re","type":"quantitative","axis":null},"y":{"field":"im","type":"quantitative","axis":null},
    "color":{"field":"qH","type":"nominal","legend":null}}},
  {"data":{"name":"pleg"},"mark":{"type":"text","align":"left","fontSize":10,"color":"black"},
   "encoding":{"x":{"field":"tx","type":"quantitative","axis":null},"y":{"field":"ly","type":"quantitative","axis":null},"text":{"field":"q","type":"nominal"}}},
  {"data":{"name":"pleg"},"mark":{"type":"point","filled":true,"size":36,"opacity":1},
   "encoding":{"x":{"field":"dx0","type":"quantitative","axis":null},"y":{"field":"ly","type":"quantitative","axis":null},
    "color":{"field":"q","type":"nominal","legend":null}}},
  {"data":{"values":[{"lab":"Hilbert","lx":1.06,"ly":1.152},{"lab":"Reference","lx":1.06,"ly":1.06}]},"mark":{"type":"text","align":"right","fontSize":10,"color":"black"},
   "encoding":{"x":{"field":"lx","type":"quantitative","axis":null},"y":{"field":"ly","type":"quantitative","axis":null},"text":{"field":"lab","type":"nominal"}}},
  {"data":{"values":[{"lx":1.235,"ly":1.152}]},"mark":{"type":"point","filled":true,"size":36,"color":"black","opacity":1},
   "encoding":{"x":{"field":"lx","type":"quantitative","axis":null},"y":{"field":"ly","type":"quantitative","axis":null}}},
  {"data":{"values":[{"lx":1.235,"ly":1.06}]},"mark":{"type":"point","shape":"M-1,-1L1,1M-1,1L1,-1","filled":false,"size":49,"strokeWidth":1.4,"color":"black","opacity":1},
   "encoding":{"x":{"field":"lx","type":"quantitative","axis":null},"y":{"field":"ly","type":"quantitative","axis":null}}},
  {"data":{"values":[{"lab":"Hilbert Sorting","lx":0,"ly":1.475}]},"mark":{"type":"text","font":"Liberation Serif","fontStyle":"italic","fontSize":22,"color":"black"},
   "encoding":{"x":{"field":"lx","type":"quantitative","axis":null},"y":{"field":"ly","type":"quantitative","axis":null},"text":{"field":"lab","type":"nominal"}}},
  {"data":{"values":[{"lab":"(c)","lx":0,"ly":-1.5}]},"mark":{"type":"text","font":"Liberation Serif","fontStyle":"italic","fontSize":20,"color":"black"},
   "encoding":{"x":{"field":"lx","type":"quantitative","axis":null},"y":{"field":"ly","type":"quantitative","axis":null},"text":{"field":"lab","type":"nominal"}}}
 ]}
],"spacing":144.3,"bounds":"flush"},
{"hconcat":[
{"width":401.7,"height":48,"data":{"name":"qs"},
 "layer":[
  {"mark":{"type":"point","filled":true,"size":225,"opacity":1},
   "encoding":{"x":{"field":"k","type":"quantitative","scale":{"domain":[0.043,6.48],"nice":false,"zero":false},"axis":null},
    "y":{"datum":0.625,"type":"quantitative","scale":{"domain":[0,1],"nice":false,"zero":false},"axis":null},
    "color":{"field":"q","type":"nominal","legend":null}}},
  {"mark":{"type":"text","align":"right","dx":-17,"fontSize":14,"color":"black"},
   "encoding":{"x":{"field":"k","type":"quantitative","axis":null},"y":{"datum":0.625,"type":"quantitative","axis":null},"text":{"field":"q","type":"nominal"}}}
 ]},
{"width":401.7,"height":48,"data":{"name":"qs"},
 "layer":[
  {"mark":{"type":"point","filled":true,"size":225,"opacity":1},
   "encoding":{"x":{"field":"k","type":"quantitative","scale":{"domain":[0.043,6.48],"nice":false,"zero":false},"axis":null},
    "y":{"datum":0.625,"type":"quantitative","scale":{"domain":[0,1],"nice":false,"zero":false},"axis":null},
    "color":{"field":"q","type":"nominal","legend":null}}},
  {"mark":{"type":"text","align":"right","dx":-17,"fontSize":14,"color":"black"},
   "encoding":{"x":{"field":"k","type":"quantitative","axis":null},"y":{"datum":0.625,"type":"quantitative","axis":null},"text":{"field":"q","type":"nominal"}}}
 ]}
],"spacing":144.3,"bounds":"flush"},
{"hconcat":[
{"width":401.7,"height":126.6,"data":{"name":"elem"},
 "view":{"stroke":"black","strokeWidth":1.5},
 "title":{"text":"(d)","orient":"bottom","fontSize":20,"offset":15},
 "layer":[
  {"mark":{"type":"point","filled":true,"size":225,"opacity":1},
   "encoding":{"x":{"field":"pos","type":"quantitative","scale":{"domain":[-0.5,9],"nice":false,"zero":false},
     "axis":{"orient":"bottom","values":[0,1.5,3,4.5,6,7.5,9],"labelExpr":"'' + datum.value","tickSize":-5,"labelPadding":16,"labelFontSize":14,"labelFlush":false,"labelOverlap":false,"title":"x/λ","titleFontSize":14,"titlePadding":6}},
    "y":{"datum":0,"type":"quantitative","scale":{"domain":[-1,1],"nice":false,"zero":false},"axis":null},
    "color":{"field":"qK","type":"nominal","legend":null}}},
  {"mark":{"type":"point","opacity":0},
   "encoding":{"x":{"field":"pos","type":"quantitative","axis":{"orient":"top","values":[0,1.5,3,4.5,6,7.5,9],"tickSize":-5,"labels":false,"title":null}},
    "y":{"datum":0,"type":"quantitative","axis":null}}}
 ],
 "resolve":{"axis":{"x":"independent"}}
},
{"width":401.7,"height":126.6,"data":{"name":"elem"},
 "view":{"stroke":"black","strokeWidth":1.5},
 "title":{"text":"(e)","orient":"bottom","fontSize":20,"offset":15},
 "layer":[
  {"mark":{"type":"point","filled":true,"size":225,"opacity":1},
   "encoding":{"x":{"field":"pos","type":"quantitative","scale":{"domain":[-0.5,9],"nice":false,"zero":false},
     "axis":{"orient":"bottom","values":[0,1.5,3,4.5,6,7.5,9],"labelExpr":"'' + datum.value","tickSize":-5,"labelPadding":16,"labelFontSize":14,"labelFlush":false,"labelOverlap":false,"title":"x/λ","titleFontSize":14,"titlePadding":6}},
    "y":{"datum":0,"type":"quantitative","scale":{"domain":[-1,1],"nice":false,"zero":false},"axis":null},
    "color":{"field":"qH","type":"nominal","legend":null}}},
  {"mark":{"type":"point","opacity":0},
   "encoding":{"x":{"field":"pos","type":"quantitative","axis":{"orient":"top","values":[0,1.5,3,4.5,6,7.5,9],"tickSize":-5,"labels":false,"title":null}},
    "y":{"datum":0,"type":"quantitative","axis":null}}}
 ],
 "resolve":{"axis":{"x":"independent"}}
}
],"spacing":144.3,"bounds":"flush"}
]
}
